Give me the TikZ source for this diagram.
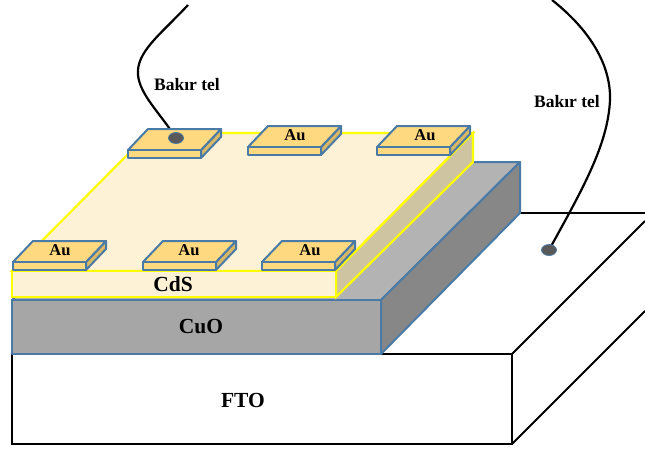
\documentclass[tikz,border=0pt]{standalone}
\usepackage{fontspec}
\setmainfont{Liberation Serif}
\usetikzlibrary{shapes.geometric}
\definecolor{edgeblue}{HTML}{4A7BA6}
\definecolor{cdsyellow}{HTML}{FFFF00}
\definecolor{cdstop}{HTML}{FDF1D6}
\definecolor{cdsside}{HTML}{CFC4A2}
\definecolor{cuofront}{HTML}{A6A6A6}
\definecolor{cuotop}{HTML}{B3B3B3}
\definecolor{cuoside}{HTML}{878787}
\definecolor{autop}{HTML}{FFD97F}
\definecolor{auside}{HTML}{D9B865}
\definecolor{dotgray}{HTML}{595959}
\tikzset{
  ftoline/.style={black, line width=2pt, line join=miter},
  cuoface/.style={draw=edgeblue, line width=2pt, line join=round},
  cdsface/.style={draw=cdsyellow, line width=2.2pt, line join=miter},
  auface/.style={draw=edgeblue, line width=2pt, line join=round},
  wire/.style={black, line width=2.2pt},
  contact/.style={ellipse, draw=edgeblue, fill=dotgray, line width=0.8pt, inner sep=0pt, minimum width=15pt, minimum height=11pt},
  layerlabel/.style={font=\fontsize{21.5}{21.5}\selectfont\bfseries, inner sep=0pt},
  aulabel/.style={font=\fontsize{16.5}{16.5}\selectfont\bfseries, inner sep=0pt},
  wirelabel/.style={font=\fontsize{17.5}{17.5}\selectfont\bfseries, inner sep=0pt}
}
\begin{document}
\begin{tikzpicture}[x=1pt, y=-1pt]
\useasboundingbox (0,0) rectangle (645,450);

% FTO block
\draw[ftoline, fill=white] (12,354) rectangle (512,444);
\draw[ftoline] (512,354) -- (645,221);
\draw[ftoline] (512,444) -- (645,311);
\draw[ftoline] (381,354) -- (512,354);
\draw[ftoline] (520,213) -- (645,213);

% wire to the FTO
\coordinate (wireBstart) at (552,0);
\coordinate (dotBpos) at (549,250);
\draw[wire] (wireBstart) .. controls (590,30) and (611,65) .. (610,100)
  .. controls (608,145) and (582,190) .. (dotBpos);
\node[contact] (dotB) at (dotBpos) {};

% CuO layer
\draw[cuoface, fill=cuotop] (12,300) -- (150,162) -- (520,162) -- (381,300) -- cycle;
\draw[cuoface, fill=cuoside] (381,300) -- (520,162) -- (520,213) -- (381,354) -- cycle;
\draw[cuoface, fill=cuofront] (12,300) rectangle (381,354);

% CdS layer
\draw[cdsface, fill=cdstop] (12,271) -- (149,133) -- (473,133) -- (336,271) -- cycle;
\draw[cdsface, fill=cdsside] (336,271) -- (473,133) -- (473,162) -- (336,297) -- cycle;
\draw[cdsface, fill=cdstop] (12,271) rectangle (336,297);

% wire to the back pad
\coordinate (wireAstart) at (188,5);
\coordinate (dotApos) at (176,138);
\draw[wire] (wireAstart) .. controls (160,35) and (136,52) .. (138,75)
  .. controls (140,95) and (160,113) .. (dotApos);

% Au pads
\foreach \x/\y in {13/262, 143/262, 262/262, 128/150, 248/147, 377/147} {
  \draw[auface, fill=auside] (\x+73,\y) -- (\x+93,\y-21) -- (\x+93,\y-13) -- (\x+73,\y+8) -- cycle;
  \draw[auface, fill=autop] (\x,\y) -- (\x+20,\y-21) -- (\x+93,\y-21) -- (\x+73,\y) -- cycle;
  \draw[auface, fill=autop] (\x,\y) rectangle (\x+73,\y+8);
}
\node[contact] (dotA) at (dotApos) {};

\node[aulabel] (auA) at (60,250) {Au};
\node[aulabel] (auB) at (189,250) {Au};
\node[aulabel] (auC) at (310,250) {Au};
\node[aulabel] (auD) at (295,135) {Au};
\node[aulabel] (auE) at (425,135) {Au};

\node[layerlabel] (cds) at (173,284) {CdS};
\node[layerlabel] (cuo) at (201,327) {CuO};
\node[layerlabel] (fto) at (243,400) {FTO};

\node[wirelabel] (telA) at (187,85) {Bakır tel};
\node[wirelabel] (telB) at (567,102) {Bakır tel};
\end{tikzpicture}
\end{document}
